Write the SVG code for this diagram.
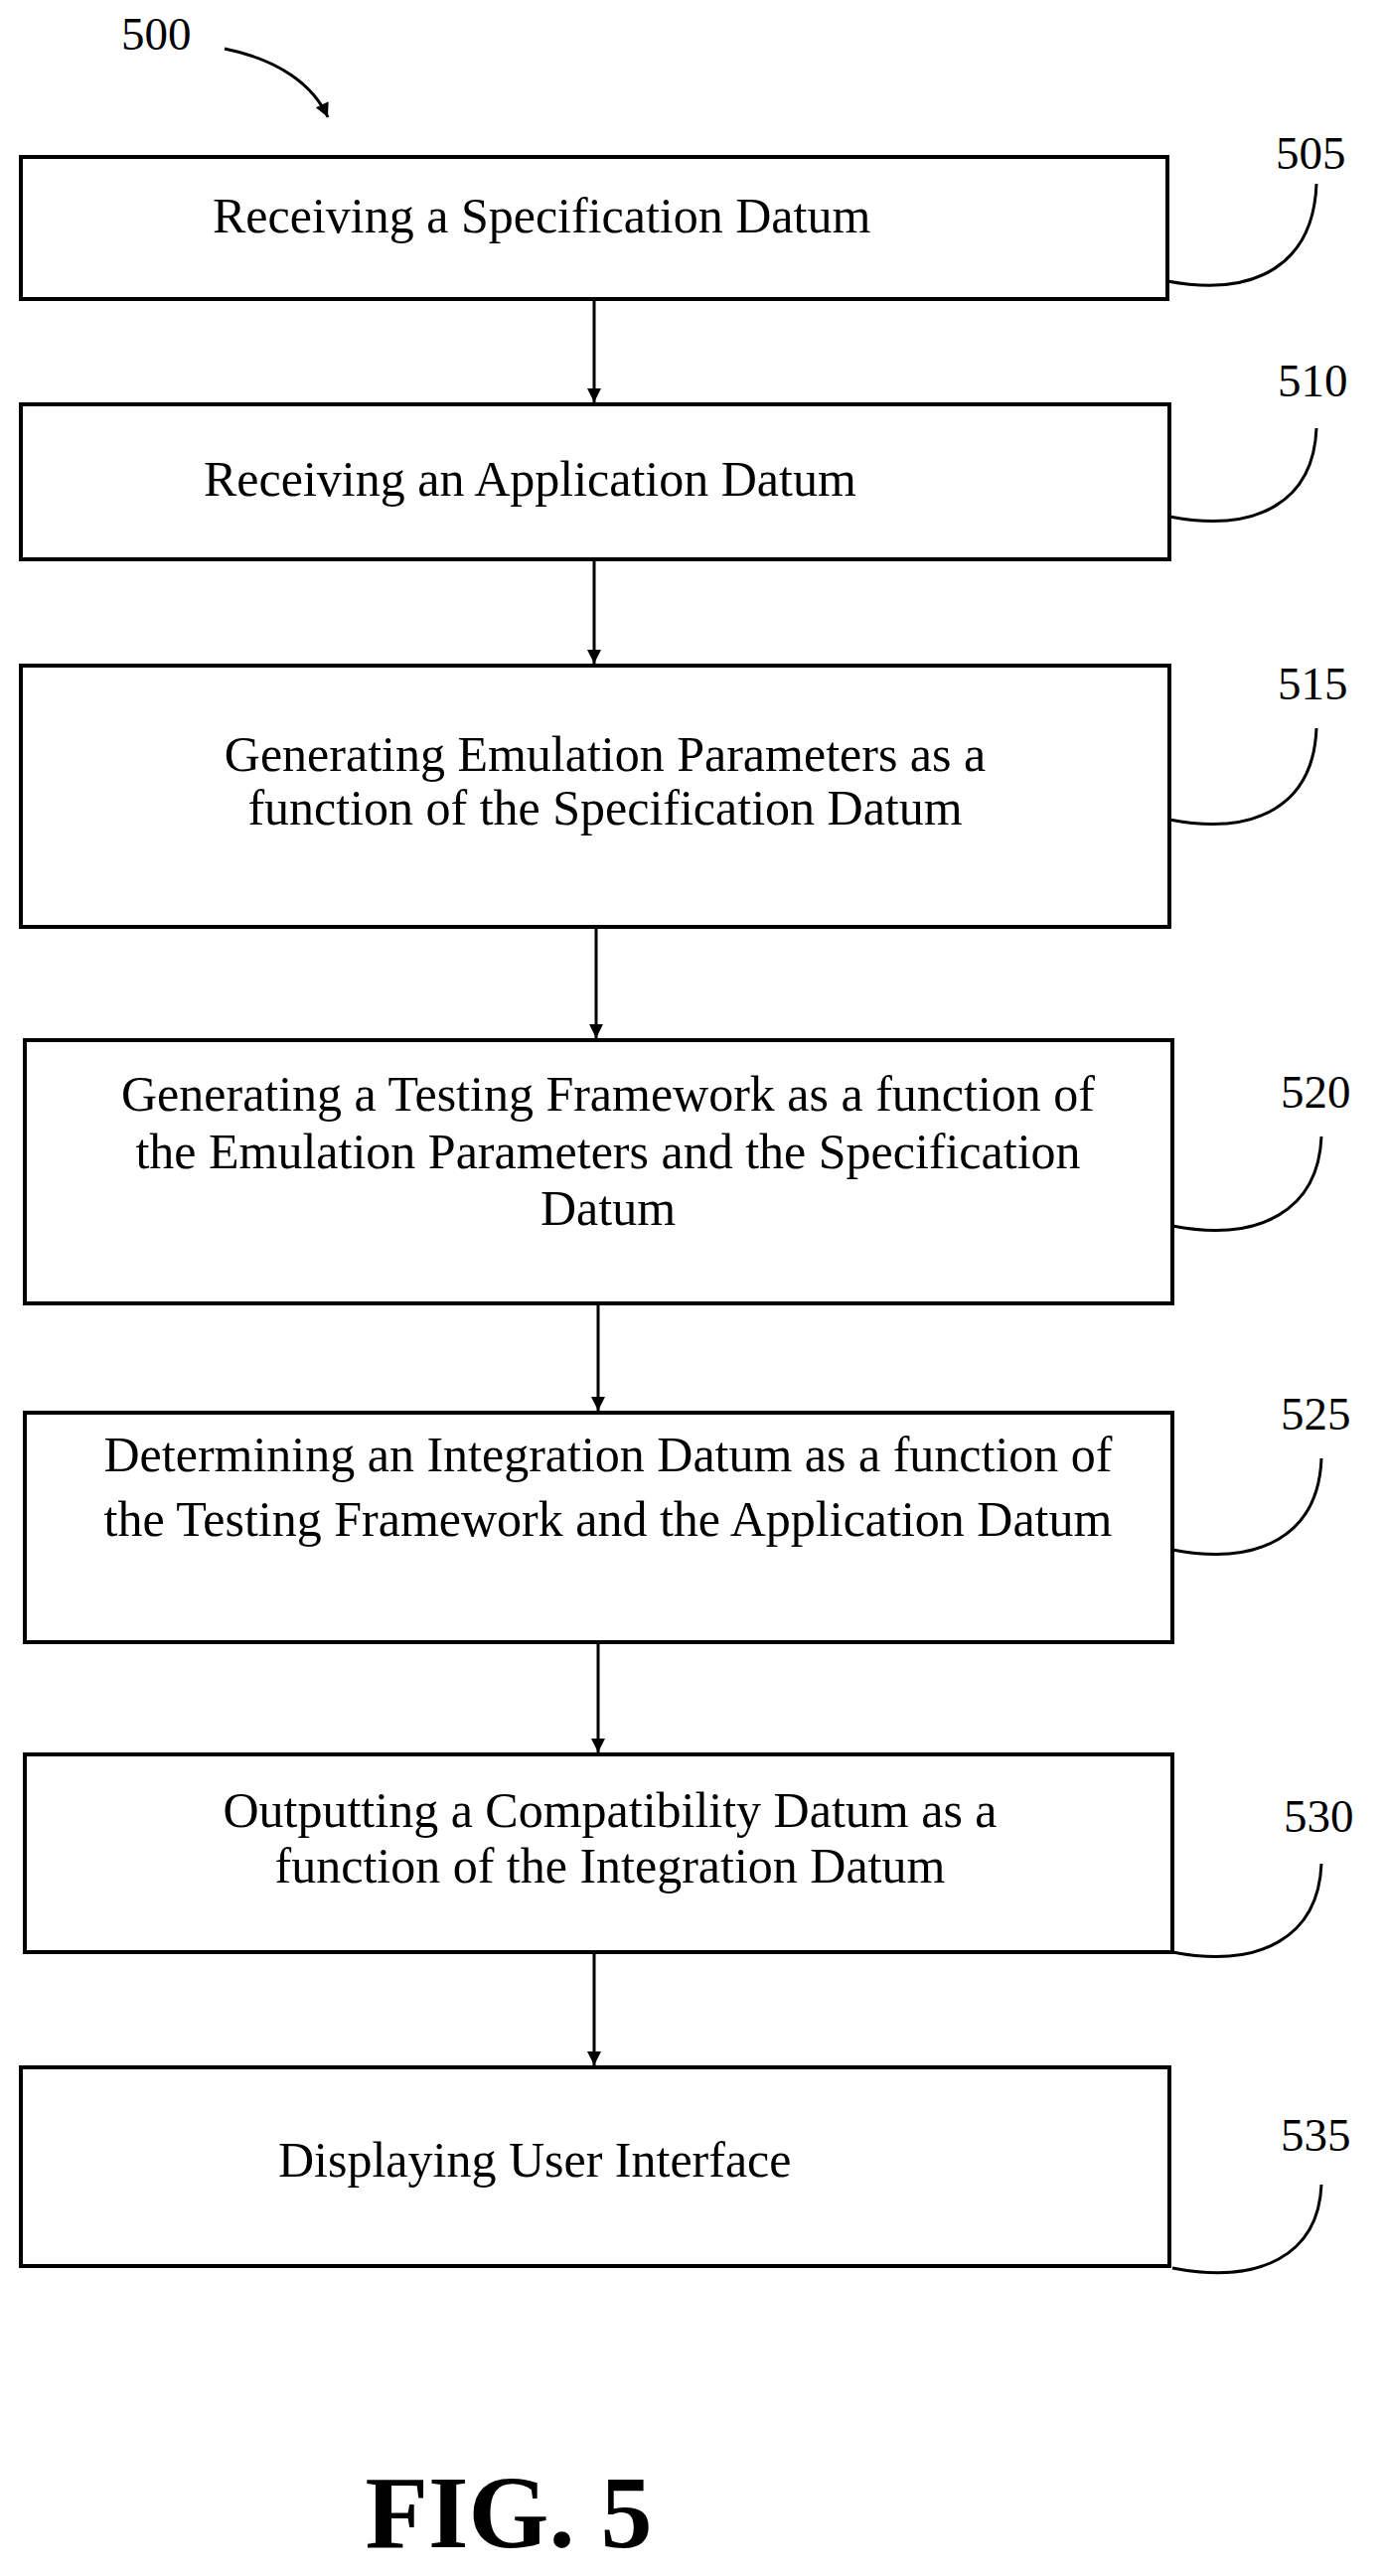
<svg xmlns="http://www.w3.org/2000/svg" width="1396" height="2593" viewBox="0 0 1396 2593">
<style>
.b{fill:#fff;stroke:#000;stroke-width:4}
.t{font-family:"Liberation Serif",serif;font-size:50px;fill:#000}
.c{text-anchor:middle}
.l{fill:none;stroke:#000;stroke-width:3}
.n{font-family:"Liberation Serif",serif;font-size:47px;fill:#000}
</style>
<defs>
<marker id="a2" viewBox="0 0 10 10" refX="10" refY="5" markerWidth="30" markerHeight="14" markerUnits="userSpaceOnUse" orient="auto"><path d="M0,0L10,5L0,10z" fill="#000"/></marker></defs>
<g id="connectors">
<path class="l" d="M226,49 C280,60 315,85 330,118" marker-end="url(#a2)"/>
<line class="l" x1="598" y1="301" x2="598" y2="405" marker-end="url(#a2)"/>
<line class="l" x1="598" y1="563" x2="598" y2="668" marker-end="url(#a2)"/>
<line class="l" x1="600" y1="933" x2="600" y2="1045" marker-end="url(#a2)"/>
<line class="l" x1="602" y1="1312" x2="602" y2="1420" marker-end="url(#a2)"/>
<line class="l" x1="602" y1="1653" x2="602" y2="1764" marker-end="url(#a2)"/>
<line class="l" x1="598" y1="1965" x2="598" y2="2079" marker-end="url(#a2)"/>
<path class="l" d="M1175,283 C1265,300 1322,265 1325,185"/>
<path class="l" d="M1177,520 C1265,537 1322,505 1325,431"/>
<path class="l" d="M1177,825 C1265,842 1322,810 1325,733"/>
<path class="l" d="M1180,1234 C1268,1251 1327,1218 1330,1144"/>
<path class="l" d="M1180,1560 C1268,1577 1327,1545 1330,1468"/>
<path class="l" d="M1180,1965 C1268,1982 1327,1950 1330,1876"/>
<path class="l" d="M1180,2283 C1268,2300 1327,2270 1330,2199"/>
</g>
<text class="n" x="122" y="50">500</text>
<g id="n505"><rect class="b" x="21" y="158" width="1154" height="143"/><text class="t" x="214" y="234">Receiving a Specification Datum</text><text class="n" x="1284" y="170">505</text></g>
<g id="n510"><rect class="b" x="21" y="407" width="1156" height="156"/><text class="t" x="205" y="499">Receiving an Application Datum</text><text class="n" x="1286" y="399">510</text></g>
<g id="n515"><rect class="b" x="21" y="670" width="1156" height="263"/><text class="t c" x="609" y="776">Generating Emulation Parameters as a</text><text class="t c" x="609" y="830">function of the Specification Datum</text><text class="n" x="1286" y="704">515</text></g>
<g id="n520"><rect class="b" x="25" y="1047" width="1155" height="265"/><text class="t c" x="612" y="1118">Generating a Testing Framework as a function of</text><text class="t c" x="612" y="1176">the Emulation Parameters and the Specification</text><text class="t c" x="612" y="1233">Datum</text><text class="n" x="1289" y="1115">520</text></g>
<g id="n525"><rect class="b" x="25" y="1422" width="1155" height="231"/><text class="t c" x="612" y="1481">Determining an Integration Datum as a function of</text><text class="t c" x="612" y="1546">the Testing Framework and the Application Datum</text><text class="n" x="1289" y="1439">525</text></g>
<g id="n530"><rect class="b" x="25" y="1766" width="1155" height="199"/><text class="t c" x="614" y="1839">Outputting a Compatibility Datum as a</text><text class="t c" x="614" y="1895">function of the Integration Datum</text><text class="n" x="1292" y="1844">530</text></g>
<g id="n535"><rect class="b" x="21" y="2081" width="1156" height="200"/><text class="t" x="280" y="2191">Displaying User Interface</text><text class="n" x="1289" y="2165">535</text></g>
<text x="512" y="2564" text-anchor="middle" style="font-family:'Liberation Serif',serif;font-size:104px;font-weight:bold">FIG. 5</text>
</svg>
